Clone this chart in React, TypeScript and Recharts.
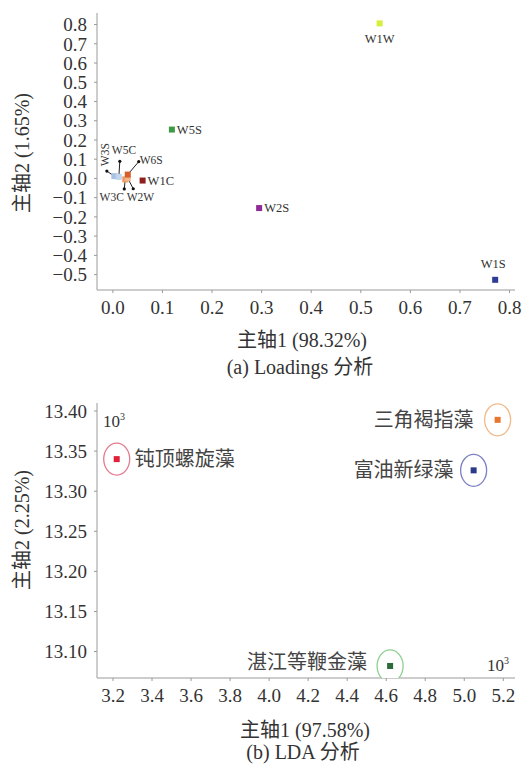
import React from 'react';
import { ScatterChart, Scatter, XAxis, YAxis } from 'recharts';

// ---------- (a) Loadings data ----------
const loadingNames = ['W1W', 'W5S', 'W2S', 'W1S', 'W1C', 'W3S', 'W5C', 'W3C', 'W2W', 'W6S'];
const loadingPC1 = [0.538, 0.119, 0.295, 0.771, 0.06, 0.003, 0.012, 0.025, 0.03, 0.03];
const loadingPC2 = [0.806, 0.254, -0.154, -0.527, -0.011, 0.012, 0.008, -0.005, 0.001, 0.02];
const loadingTicksX = [0, 0.1, 0.2, 0.3, 0.4, 0.5, 0.6, 0.7, 0.8];
const loadingTicksY = [-0.5, -0.4, -0.3, -0.2, -0.1, 0, 0.1, 0.2, 0.3, 0.4, 0.5, 0.6, 0.7, 0.8];

// ---------- (b) LDA data ----------
const ldaNames = ['钝顶螺旋藻', '三角褐指藻', '富油新绿藻', '湛江等鞭金藻'];
const ldaPC1 = [3.219, 5.171, 5.048, 4.62];
const ldaPC2 = [13.34, 13.389, 13.326, 13.082];
const ldaTicksX = [3.2, 3.4, 3.6, 3.8, 4.0, 4.2, 4.4, 4.6, 4.8, 5.0, 5.2];
const ldaTicksY = [13.1, 13.15, 13.2, 13.25, 13.3, 13.35, 13.4];

// ---------- styles ----------
const SERIF = '"Liberation Serif", "Times New Roman", "Noto Sans CJK SC", serif';
const TEXT = '#333';
const AXIS = '#9a9a9a';

const loadingColors: Record<string, string> = {
  W1W: '#d6ef3a',
  W5S: '#3f9a46',
  W2S: '#8e2b96',
  W1S: '#2d3d95',
  W1C: '#8e1f1f',
  W3S: '#a8c3e2',
  W5C: '#c2d5ea',
  W3C: '#ee9a62',
  W2W: '#f3b58c',
  W6S: '#d6602c',
};

type LabelLayout = {
  tx: number;
  ty: number;
  anchor: 'start' | 'middle' | 'end';
  ex?: number;
  ey?: number;
  rotate?: number;
};

const loadingLabelLayout: Record<string, LabelLayout> = {
  W1W: { tx: 0, ty: 16, anchor: 'middle' },
  W5S: { tx: 5, ty: 0, anchor: 'start' },
  W2S: { tx: 5, ty: 0, anchor: 'start' },
  W1S: { tx: -2, ty: -16, anchor: 'middle' },
  W1C: { tx: 5, ty: 0, anchor: 'start' },
  W3S: { ex: -7.5, ey: -5, tx: -9.5, ty: -21.5, anchor: 'middle', rotate: -90 },
  W5C: { ex: 1, ey: -15.6, tx: -7, ty: -27, anchor: 'start' },
  W6S: { ex: 11, ey: -13, tx: 12, ty: -15, anchor: 'start' },
  W3C: { ex: -1, ey: 9.5, tx: -1.4, ty: 18, anchor: 'end' },
  W2W: { ex: 5.5, ey: 10.5, tx: -1, ty: 19, anchor: 'start' },
};

const ldaPointColors = ['#e0203a', '#e8762c', '#2b3a8c', '#2e6b3a'];
const ldaRingColors = ['#e27a90', '#f2b98a', '#7e80c4', '#8fcf8f'];
const ldaLabelLayout: LabelLayout[] = [
  { tx: 18, ty: 0, anchor: 'start' },
  { tx: -24, ty: 0, anchor: 'end' },
  { tx: -20, ty: 0, anchor: 'end' },
  { tx: -23, ty: -4, anchor: 'end' },
];

const loadingData = loadingNames.map((name, i) => ({ name, x: loadingPC1[i], y: loadingPC2[i] }));
const ldaData = ldaNames.map((name, i) => ({ name, idx: i, x: ldaPC1[i], y: ldaPC2[i] }));

const fmt = (d: number) => (v: number) => v.toFixed(d).replace('-', '−');

const LoadingShape = (props: any) => {
  const { cx, cy, payload } = props;
  if (cx == null || cy == null) return null;
  const name = payload.name as string;
  const lay = loadingLabelLayout[name];
  const col = loadingColors[name];
  const s = 6;
  const hasLeader = lay.ex !== undefined;
  const tx = cx + lay.tx;
  const ty = cy + lay.ty;
  return (
    <g>
      {hasLeader && (
        <>
          <line x1={cx} y1={cy} x2={cx + (lay.ex as number)} y2={cy + (lay.ey as number)} stroke="#222" strokeWidth={1} />
          <circle cx={cx + (lay.ex as number)} cy={cy + (lay.ey as number)} r={1.6} fill="#111" />
        </>
      )}
      <rect x={cx - s / 2} y={cy - s / 2} width={s} height={s} fill={col} />
      <text
        x={tx}
        y={ty}
        textAnchor={lay.anchor}
        dominantBaseline="central"
        fontFamily={SERIF}
        fontSize={hasLeader ? 11.5 : 12.5}
        fill="#333"
        transform={lay.rotate ? `rotate(${lay.rotate} ${tx} ${ty})` : undefined}
      >
        {name}
      </text>
    </g>
  );
};

const LdaShape = (props: any) => {
  const { cx, cy, payload } = props;
  if (cx == null || cy == null) return null;
  const i = payload.idx as number;
  const lay = ldaLabelLayout[i];
  const s = 6;
  return (
    <g>
      <ellipse cx={cx} cy={cy} rx={13} ry={16} fill="#fff" stroke={ldaRingColors[i]} strokeWidth={1.3} />
      <rect x={cx - s / 2} y={cy - s / 2} width={s} height={s} fill={ldaPointColors[i]} />
      <text
        x={cx + lay.tx}
        y={cy + lay.ty}
        textAnchor={lay.anchor}
        dominantBaseline="central"
        fontFamily={SERIF}
        fontSize={20}
        fill="#444"
      >
        {payload.name}
      </text>
    </g>
  );
};

const tickStyle = { fill: TEXT, fontSize: 19, fontFamily: SERIF };

const Txt = ({ x, y, children, size = 20, rotate = 0 }: any) => (
  <div
    style={{
      position: 'absolute',
      left: x,
      top: y,
      transform: `translate(-50%, -50%) rotate(${rotate}deg)`,
      whiteSpace: 'nowrap',
      fontFamily: SERIF,
      fontSize: size,
      lineHeight: 1,
      color: TEXT,
    }}
  >
    {children}
  </div>
);

const Pow = ({ x, y }: any) => (
  <div
    style={{
      position: 'absolute',
      left: x,
      top: y,
      transform: 'translate(0, -50%)',
      whiteSpace: 'nowrap',
      fontFamily: SERIF,
      fontSize: 17,
      lineHeight: 1,
      color: TEXT,
    }}
  >
    10<sup style={{ fontSize: 10, verticalAlign: 'top', position: 'relative', top: -1 }}>3</sup>
  </div>
);

export default function App() {
  return (
    <div style={{ position: 'absolute', left: 0, top: 0, width: 523, height: 765, background: '#fff', overflow: 'hidden' }}>
      <div style={{ position: 'absolute', left: 0, top: 0 }}>
        <ScatterChart width={523} height={390} margin={{ top: 13, right: 8, bottom: 0, left: 0 }}>
          <XAxis
            type="number"
            dataKey="x"
            domain={[-0.032, 0.811]}
            ticks={loadingTicksX}
            interval={0}
            allowDataOverflow
            height={100}
            tickSize={3}
            tickMargin={8}
            stroke={AXIS}
            tick={tickStyle}
            tickFormatter={fmt(1)}
          />
          <YAxis
            type="number"
            dataKey="y"
            domain={[-0.58, 0.86]}
            ticks={loadingTicksY}
            interval={0}
            allowDataOverflow
            width={97}
            tickSize={3}
            tickMargin={7}
            stroke={AXIS}
            tick={tickStyle}
            tickFormatter={fmt(1)}
          />
          <Scatter data={loadingData} shape={LoadingShape} isAnimationActive={false} />
        </ScatterChart>
      </div>
      <div style={{ position: 'absolute', left: 0, top: 390 }}>
        <ScatterChart width={523} height={375} margin={{ top: 13, right: 8, bottom: 0, left: 0 }}>
          <XAxis
            type="number"
            dataKey="x"
            domain={[3.118, 5.26]}
            ticks={ldaTicksX}
            interval={0}
            allowDataOverflow
            height={87}
            tickSize={3}
            tickMargin={8}
            stroke={AXIS}
            tick={tickStyle}
            tickFormatter={fmt(1)}
          />
          <YAxis
            type="number"
            dataKey="y"
            domain={[13.067, 13.41]}
            ticks={ldaTicksY}
            interval={0}
            allowDataOverflow
            width={97}
            tickSize={3}
            tickMargin={7}
            stroke={AXIS}
            tick={tickStyle}
            tickFormatter={fmt(2)}
          />
          <Scatter data={ldaData} shape={LdaShape} isAnimationActive={false} />
        </ScatterChart>
      </div>

      <Txt x={22} y={153} rotate={-90}>主轴2 (1.65%)</Txt>
      <Txt x={302} y={340}>主轴1 (98.32%)</Txt>
      <Txt x={300} y={367}>(a) Loadings 分析</Txt>

      <Txt x={22} y={530} rotate={-90}>主轴2 (2.25%)</Txt>
      <Txt x={305} y={730}>主轴1 (97.58%)</Txt>
      <Txt x={303} y={752}>(b) LDA 分析</Txt>

      <Pow x={103} y={421} />
      <Pow x={487} y={665} />
    </div>
  );
}
